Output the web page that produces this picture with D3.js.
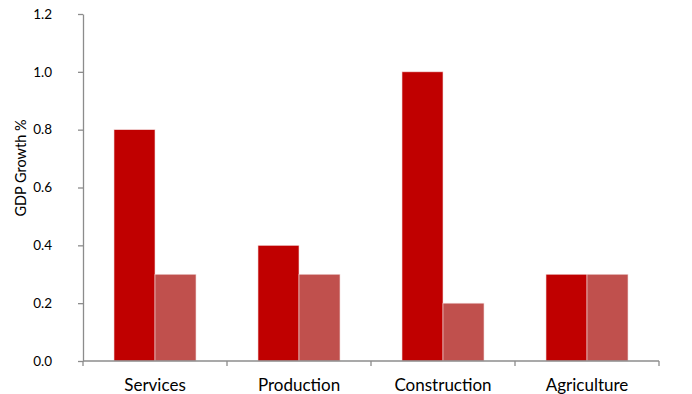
<!DOCTYPE html>
<html>
<head>
<meta charset="utf-8">
<script src="https://cdn.jsdelivr.net/npm/d3@7"></script>
<style>
  body { margin: 0; background: #fff; }
  svg { display: block; font-family: Lato, "Open Sans", sans-serif; }
</style>
</head>
<body>
<div id="chart"></div>
<script>
// GDP growth by sector - grouped bars
const categories = ["Services", "Production", "Construction", "Agriculture"];
const seriesA = [0.8, 0.4, 1.0, 0.3];
const seriesB = [0.3, 0.3, 0.2, 0.3];
const yTicks = [0, 0.2, 0.4, 0.6, 0.8, 1.0, 1.2];

const width = 692;
const height = 394;
const margin = { top: 14, right: 33, bottom: 33, left: 83 };

const svg = d3.select("#chart")
  .append("svg")
  .attr("width", width)
  .attr("height", height);

const x = d3.scaleBand()
  .domain(categories)
  .range([margin.left, width - margin.right])
  .paddingInner(0)
  .paddingOuter(0);

const y = d3.scaleLinear()
  .domain([0, 1.2])
  .range([height - margin.bottom, margin.top]);

const inner = d3.scaleBand()
  .domain(["a", "b"])
  .range([0, x.bandwidth()])
  .paddingOuter(0.756)
  .paddingInner(0);

const data = categories.map((c, i) => ({ c, a: seriesA[i], b: seriesB[i] }));

// title, cut off at top of frame as in the original
svg.append("text")
  .attr("x", 330)
  .attr("y", -3)
  .attr("text-anchor", "middle")
  .attr("font-weight", "bold")
  .attr("font-size", "16px")
  .attr("fill", "#000")
  .text("Real GDP growth by sector, Q1, 2013");

const groups = svg.selectAll(".grp")
  .data(data)
  .enter()
  .append("g")
  .attr("class", "grp")
  .attr("transform", d => `translate(${x(d.c)},0)`);

groups.append("rect")
  .attr("x", inner("a"))
  .attr("width", inner.bandwidth())
  .attr("y", d => y(d.a))
  .attr("height", d => y(0) - y(d.a))
  .attr("fill", "#C00000")
  .attr("stroke", "#f2dcdc")
  .attr("stroke-width", 0.6);

groups.append("rect")
  .attr("x", inner("b"))
  .attr("width", inner.bandwidth())
  .attr("y", d => y(d.b))
  .attr("height", d => y(0) - y(d.b))
  .attr("fill", "#C0504D")
  .attr("stroke", "#f2dcdc")
  .attr("stroke-width", 0.6);

// y axis
const yAxis = svg.append("g")
  .attr("transform", `translate(${margin.left},0)`)
  .call(d3.axisLeft(y).tickValues(yTicks).tickFormat(d3.format(".1f")).tickSize(5).tickSizeOuter(0));
yAxis.select(".domain").attr("stroke", "#8c8c8c").attr("stroke-width", 1.3);
yAxis.selectAll(".tick line").attr("stroke", "#8c8c8c").attr("stroke-width", 1.3);
yAxis.selectAll(".tick text")
  .attr("x", -31)
  .attr("font-size", "13.5px")
  .attr("font-family", "Lato, 'Open Sans', sans-serif")
  .attr("fill", "#000");

// x axis with boundary ticks
const xAxis = svg.append("g")
  .attr("transform", `translate(0,${y(0)})`);
xAxis.append("line")
  .attr("x1", margin.left)
  .attr("x2", width - margin.right)
  .attr("stroke", "#8c8c8c")
  .attr("stroke-width", 1.3);
const edges = categories.map(c => x(c)).concat([x(categories[categories.length - 1]) + x.bandwidth()]);
xAxis.selectAll(".edge")
  .data(edges)
  .enter()
  .append("line")
  .attr("class", "edge")
  .attr("x1", d => d)
  .attr("x2", d => d)
  .attr("y1", 0)
  .attr("y2", 5)
  .attr("stroke", "#8c8c8c")
  .attr("stroke-width", 1.3);
xAxis.selectAll(".lbl")
  .data(categories)
  .enter()
  .append("text")
  .attr("class", "lbl")
  .attr("x", d => x(d) + x.bandwidth() / 2)
  .attr("y", 30)
  .attr("text-anchor", "middle")
  .attr("font-size", "17px")
  .attr("fill", "#000")
  .text(d => d);

// y axis title
svg.append("text")
  .attr("transform", `translate(26,${168}) rotate(-90)`)
  .attr("text-anchor", "middle")
  .attr("font-size", "14.5px")
  .attr("fill", "#000")
  .text("GDP Growth %");
</script>
</body>
</html>
